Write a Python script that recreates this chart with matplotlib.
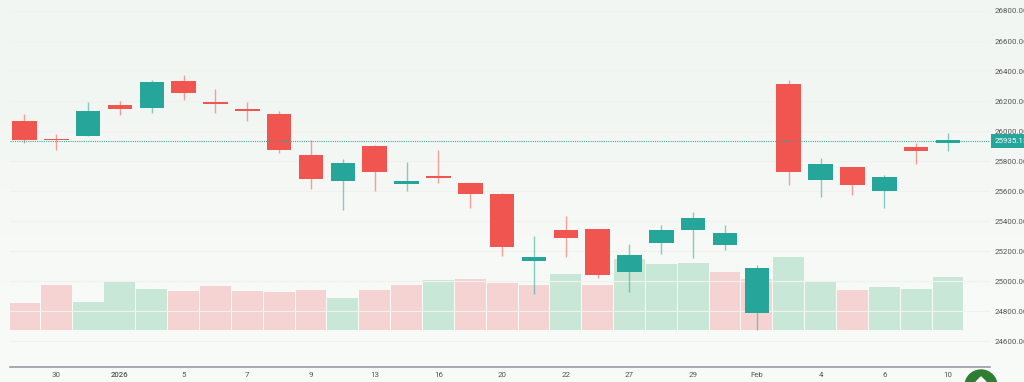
import numpy as np
import matplotlib
matplotlib.use('Agg')
import matplotlib.pyplot as plt
from matplotlib.patches import Circle, Polygon

plt.rcParams['font.family'] = ['Roboto', 'DejaVu Sans']

# 캔들 데이터
opens = [25939, 25946, 25970, 26172, 26156, 26334, 26192, 26150, 26112, 25844,
         25666, 25899, 25648, 25702, 25655, 25584, 25138, 25342, 25347, 25061,
         25254, 25342, 25245, 24792, 26312, 25673, 25760, 25602, 25895, 25919]
closes = [26066, 25939, 26132, 26146, 26330, 26252, 26179, 26136, 25875, 25680,
          25790, 25730, 25666, 25688, 25584, 25229, 25160, 25289, 25043, 25176,
          25342, 25420, 25325, 25087, 25726, 25780, 25642, 25695, 25868, 25939]
highs = [26112, 25979, 26192, 26199, 26341, 26376, 26279, 26192, 26134, 25941,
         25813, 25906, 25795, 25875, 25655, 25589, 25304, 25436, 25349, 25247,
         25373, 25460, 25373, 25109, 26341, 25820, 25762, 25708, 25921, 25990]
lows = [25919, 25875, 25966, 26110, 26119, 26208, 26123, 26066, 25855, 25617,
        25473, 25602, 25599, 25657, 25491, 25169, 24918, 25165, 25025, 24930,
        25183, 25158, 25209, 24677, 25642, 25562, 25575, 25487, 25780, 25870]
is_up = [False, False, True, False, True, False, False, False, False, False,
         True, False, True, False, False, False, True, False, False, True,
         True, True, True, True, False, True, False, True, False, True]

# 거래량 (단위 임의)
volumes = [27, 45, 28, 49, 41, 39, 44, 39, 38, 40, 32, 40, 45, 50, 51, 47, 45, 56,
           45, 71, 66, 67, 58, 51, 73, 49, 40, 43, 41, 53]
vol_up = [False, False, True, True, True, False, False, False, False, False,
          True, False, False, True, False, False, False, True, False, True,
          True, True, False, False, True, True, False, True, True, True]

price_ticks = [24600, 24800, 25000, 25200, 25400, 25600, 25800, 26000, 26200, 26400, 26600, 26800]
date_pos = [1, 3, 5, 7, 9, 11, 13, 15, 17, 19, 21, 23, 25, 27, 29]
date_labels = ['30', '2026', '5', '7', '9', '13', '16', '20', '22', '27', '29', 'Feb', '4', '6', '10']
last_price = 25935.15

RED = '#f15550'
GREEN = '#26a69a'
W, H = 1024, 382
X_RANGE = (-0.452, 30.32)

fig = plt.figure(figsize=(10.24, 3.82), dpi=100)

# 배경 그라데이션
bg = fig.add_axes([0, 0, 1, 1], zorder=0)
bg.imshow([[0.0], [1.0]], aspect='auto', cmap=matplotlib.colors.LinearSegmentedColormap.from_list(
    'bg', ['#f2f6f3', '#f8faf7']), interpolation='bilinear', extent=[0, 1, 0, 1])
bg.axis('off')

rect = [10 / W, 1 - 366.7 / H, 980 / W, 366.7 / H]

# 거래량 막대
vol_ax = fig.add_axes(rect, zorder=1)
vol_ax.patch.set_visible(False)
vol_ax.bar(range(len(volumes)), volumes, width=0.97,
           color=['#c9e7d6' if u else '#f5d3d3' for u in vol_up])
vol_ax.set_xlim(*X_RANGE)
vol_ax.set_ylim(-36.7, 330)
vol_ax.axis('off')

ax = fig.add_axes(rect, zorder=2)
ax.patch.set_visible(False)

x = np.arange(len(opens))
colors = [GREEN if u else RED for u in is_up]
ax.vlines(x, lows, highs, colors=colors, linewidth=1, alpha=0.55, zorder=3)
bottoms = [min(o, c) for o, c in zip(opens, closes)]
heights = [abs(o - c) for o, c in zip(opens, closes)]
ax.bar(x, heights, bottom=bottoms, width=0.77, color=colors, zorder=4)

ax.axhline(last_price, color=GREEN, linewidth=0.8, linestyle=(0, (1, 1)), alpha=0.9, zorder=5)
ax.grid(axis='y', color='#eff2ef', linewidth=0.8)
ax.set_axisbelow(True)

ax.set_xlim(*X_RANGE)
ax.set_ylim(24432, 26873)
ax.set_yticks(price_ticks, [f'{p:.2f}' for p in price_ticks])
ax.yaxis.tick_right()
ax.set_xticks(date_pos, date_labels)
ax.tick_params(length=0, labelsize=5.7, labelcolor='#555555')
ax.tick_params(axis='y', pad=3.6)
ax.tick_params(axis='x', pad=3.5)
ax.get_xticklabels()[1].set_fontweight('medium')

for s in ['top', 'left', 'right']:
    ax.spines[s].set_visible(False)
ax.spines['bottom'].set_color('#9a9aa6')
ax.spines['bottom'].set_linewidth(1.2)

# 현재가 표시
ax.annotate(f'{last_price:.2f}', xy=(1, last_price), xycoords=('axes fraction', 'data'),
            xytext=(3.6, 0), textcoords='offset points', va='center', ha='left',
            fontsize=5.7, color='white', annotation_clip=False,
            bbox=dict(boxstyle='square,pad=0.55', fc=GREEN, ec='none'))

# 오른쪽 아래 버튼
button = Circle((981, H - 386), 16, transform=None, color='#2e7d32', zorder=6)
fig.add_artist(button)
fig.add_artist(Polygon([(976, H - 382), (981, H - 377), (986, H - 382)], closed=True,
                       transform=None, color='white', zorder=7))

plt.savefig('out.png', dpi=100)
